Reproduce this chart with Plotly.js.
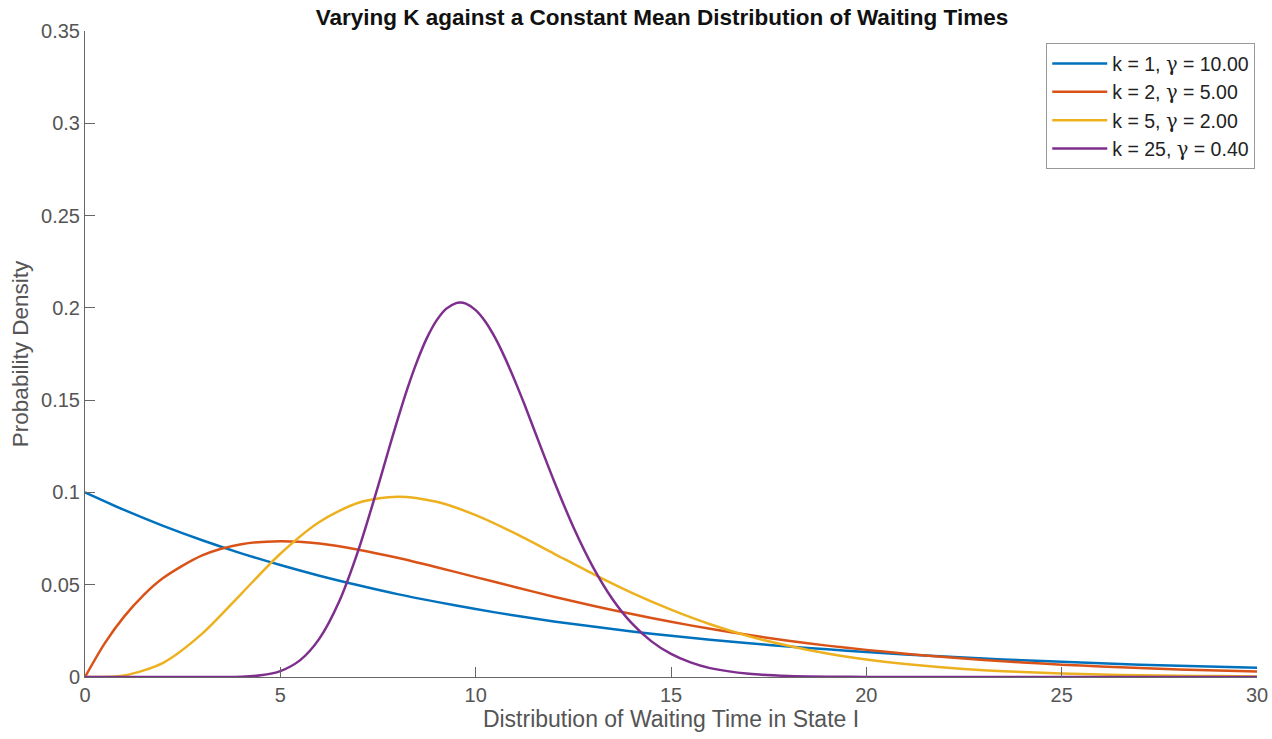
<!DOCTYPE html>
<html>
<head>
<meta charset="utf-8">
<script src="https://cdn.plot.ly/plotly-3.0.1.min.js"></script>
<style>
  html, body { margin: 0; padding: 0; background: #ffffff; }
  #chart { width: 1272px; height: 739px; }
</style>
</head>
<body>
<div id="chart"></div>
<script>
// Waiting time grid (whole units) for the broader curves
const xWhole = [0,1,2,3,4,5,6,7,8,9,10,11,12,13,14,15,16,17,18,19,20,21,22,23,24,25,26,27,28,29,30];

// k = 1, gamma = 10
const densK1 = [0.1000,0.0905,0.0819,0.0741,0.0670,0.0607,0.0549,0.0497,0.0449,0.0407,0.0368,
                0.0333,0.0301,0.0273,0.0247,0.0223,0.0202,0.0183,0.0165,0.0150,0.0135,
                0.0122,0.0111,0.0100,0.0091,0.0082,0.0074,0.0067,0.0061,0.0055,0.0050];

// k = 2, gamma = 5 (extra early points where it rises steeply)
const xK2 = [0,0.5,1,1.5,2,3,4,5,6,7,8,9,10,11,12,13,14,15,16,17,18,19,20,21,22,23,24,25,26,27,28,29,30];
const densK2 = [0,0.0181,0.0327,0.0444,0.0536,0.0659,0.0719,0.0736,0.0723,0.0690,0.0646,0.0595,0.0541,
                0.0488,0.0435,0.0386,0.0341,0.0299,0.0261,0.0227,0.0197,0.0170,0.0147,
                0.0126,0.0108,0.0092,0.0079,0.0067,0.0057,0.0049,0.0041,0.0035,0.0030];

// k = 5, gamma = 2
const densK5 = [0,0.0008,0.0077,0.0235,0.0451,0.0668,0.0840,0.0944,0.0977,0.0949,0.0877,
                0.0779,0.0669,0.0559,0.0456,0.0365,0.0286,0.0221,0.0169,0.0127,0.0095,
                0.0070,0.0051,0.0037,0.0027,0.0019,0.0013,0.0010,0.0007,0.0005,0.0003];

// k = 25, gamma = 0.4 (finer grid around the narrow peak)
const xK25 = [0,1,2,3,3.5,4,4.5,5,5.5,6,6.5,7,7.5,7.75,8,8.25,8.5,8.75,9,9.25,9.5,9.6,9.75,10,
              10.25,10.5,10.75,11,11.25,11.5,12,12.5,13,13.5,14,14.5,15,15.5,16,17,18,19,20,22,24,26,28,30];
const densK25 = [0,0,0,0,0.00003,0.00018,0.00089,0.0032,0.0090,0.0208,0.0406,0.0689,0.1033,0.1215,
                 0.1393,0.1561,0.1710,0.1836,0.1932,0.1996,0.2026,0.2029,0.2023,0.1988,
                 0.1925,0.1837,0.1729,0.1607,0.1476,0.1338,0.1065,0.0813,0.0597,0.0423,
                 0.0290,0.0193,0.0125,0.0079,0.0048,0.0017,0.00055,0.00017,0.00005,0,0,0,0,0];

const gammaGlyph = '<span style="font-family:DejaVu Serif">\u03b3</span>';
const seriesNames = [
  'k = 1, ' + gammaGlyph + ' = 10.00',
  'k = 2, ' + gammaGlyph + ' = 5.00',
  'k = 5, ' + gammaGlyph + ' = 2.00',
  'k = 25, ' + gammaGlyph + ' = 0.40'
];
const seriesColors = ['#0072BD', '#D95319', '#EDB120', '#7E2F8E'];

const xTickVals = [0,5,10,15,20,25,30];
const yTickVals = [0,0.05,0.1,0.15,0.2,0.25,0.3,0.35];
const yTickText = ['0','0.05','0.1','0.15','0.2','0.25','0.3','0.35'];

const xs = [xWhole, xK2, xWhole, xK25];
const ys = [densK1, densK2, densK5, densK25];

const traces = ys.map((y, i) => ({
  x: xs[i],
  y: y,
  type: 'scatter',
  mode: 'lines',
  name: seriesNames[i],
  line: { color: seriesColors[i], width: 2.5, shape: 'spline', smoothing: 0.8 }
}));

const axisGray = '#666666';
const textGray = '#555555';
const family = 'Liberation Sans, Arial, sans-serif';

const layout = {
  width: 1272,
  height: 739,
  margin: { l: 85, r: 15, t: 31, b: 62 },
  paper_bgcolor: '#ffffff',
  plot_bgcolor: '#ffffff',
  font: { family: family, size: 20, color: textGray },
  showlegend: true,
  title: {
    text: '<b>Varying K against a Constant Mean Distribution of Waiting Times</b>',
    font: { family: family, size: 22.5, color: '#111111' },
    x: 0.5204, xanchor: 'center',
    y: 0.977, yanchor: 'middle'
  },
  xaxis: {
    range: [0, 30],
    tickvals: xTickVals,
    ticks: 'inside',
    ticklen: 10,
    tickcolor: axisGray,
    showline: true,
    linecolor: axisGray,
    linewidth: 1,
    showgrid: false,
    zeroline: false,
    tickfont: { size: 20, color: textGray },
    title: { text: 'Distribution of Waiting Time in State I', font: { size: 23, color: textGray }, standoff: 5 }
  },
  yaxis: {
    range: [0, 0.35],
    tickvals: yTickVals,
    ticktext: yTickText,
    ticks: 'inside',
    ticklen: 10,
    tickcolor: axisGray,
    showline: true,
    linecolor: axisGray,
    linewidth: 1,
    showgrid: false,
    zeroline: false,
    tickfont: { size: 20, color: textGray },
    title: { text: 'Probability Density', font: { size: 22.5, color: textGray }, standoff: 6 }
  },
  legend: {
    x: 0.9985, xanchor: 'right',
    y: 0.981, yanchor: 'top',
    bgcolor: '#ffffff',
    bordercolor: '#999999',
    borderwidth: 1,
    font: { size: 19.5, color: '#222222' },
    tracegroupgap: 0,
    itemwidth: 55
  }
};

Plotly.newPlot('chart', traces, layout, { displayModeBar: false, staticPlot: true });
</script>
</body>
</html>
